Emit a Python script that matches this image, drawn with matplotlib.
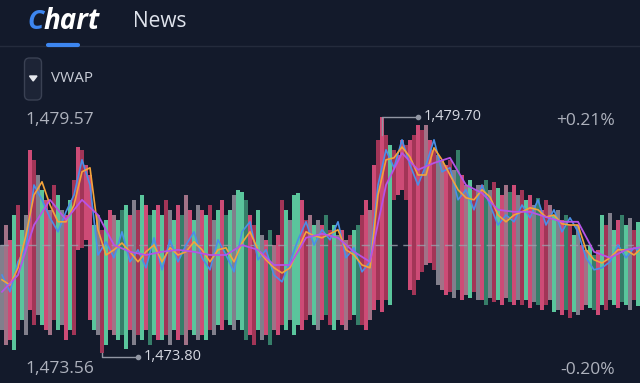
import numpy as np
import matplotlib
matplotlib.use("Agg")
import matplotlib.pyplot as plt
from matplotlib.patches import FancyBboxPatch, Polygon

plt.rcParams['font.family'] = ['Open Sans', 'DejaVu Sans']

# ---- data (prices) ----
prev_close = 1476.50
axis_top_label = "1,479.57"
axis_bottom_label = "1,473.56"
pct_top_label = "+0.21%"
pct_bottom_label = "-0.20%"

bar_top = [
    1476.50, 1477.00, 1476.63, 1477.25, 1477.50, 1476.88, 1477.25, 1478.88, 1478.63, 1478.25,
    1477.88, 1477.63, 1477.38, 1478.00, 1477.75, 1477.38, 1477.25, 1477.63, 1478.13, 1478.95,
    1478.88, 1478.50, 1478.25, 1477.00, 1477.25, 1476.88, 1477.13, 1477.38, 1477.25, 1477.13,
    1477.38, 1477.50, 1477.25, 1477.63, 1477.38, 1477.75, 1477.50, 1477.25, 1477.38, 1477.50,
    1477.25, 1477.63, 1477.38, 1477.13, 1477.50, 1477.25, 1477.75, 1477.38, 1477.13, 1477.50,
    1477.38, 1477.25, 1477.50, 1477.13, 1477.38, 1477.63, 1477.25, 1477.38, 1477.75, 1477.88,
    1477.83, 1477.63, 1477.25, 1477.00, 1477.38, 1476.75, 1476.63, 1476.88, 1476.50, 1476.75,
    1477.63, 1477.38, 1477.13, 1477.75, 1477.80, 1477.63, 1477.13, 1477.25, 1477.00, 1477.13,
    1477.00, 1477.25, 1476.88, 1477.00, 1476.75, 1476.88, 1476.63, 1476.75, 1476.88, 1477.00,
    1477.25, 1477.63, 1477.38, 1478.50, 1479.13, 1479.70, 1479.25, 1479.00, 1478.88, 1478.75,
    1479.13, 1479.00, 1479.13, 1479.25, 1479.50, 1479.38, 1479.50, 1479.13, 1478.88, 1478.75,
    1478.63, 1478.50, 1478.63, 1478.38, 1478.88, 1478.25, 1478.00, 1478.13, 1477.88, 1478.00,
    1478.00, 1478.13, 1477.88, 1478.08, 1477.93, 1477.75, 1478.00, 1477.83, 1478.00, 1477.75,
    1477.88, 1477.63, 1477.75, 1477.50, 1477.68, 1477.38, 1477.63, 1477.50, 1477.25, 1477.38,
    1477.13, 1477.25, 1477.00, 1476.75, 1477.00, 1476.50, 1476.38, 1476.50, 1476.25, 1476.38,
    1477.25, 1477.00, 1477.30, 1476.88, 1477.13, 1477.25, 1477.00, 1477.18, 1476.88, 1477.08,
]
bar_bottom = [
    1474.38, 1474.00, 1474.13, 1473.88, 1474.38, 1474.63, 1474.25, 1474.88, 1474.50, 1474.75,
    1474.50, 1474.38, 1474.25, 1474.63, 1474.38, 1474.50, 1474.13, 1474.38, 1474.25, 1476.38,
    1476.43, 1476.63, 1474.63, 1474.38, 1474.25, 1473.80, 1474.00, 1474.38, 1474.25, 1474.13,
    1474.25, 1473.90, 1474.38, 1474.00, 1474.25, 1474.13, 1474.38, 1474.00, 1474.25, 1474.13,
    1474.13, 1474.25, 1474.00, 1474.38, 1474.13, 1474.25, 1474.00, 1474.38, 1474.25, 1474.13,
    1474.25, 1474.13, 1474.38, 1474.25, 1474.50, 1474.38, 1474.63, 1474.50, 1474.38, 1474.63,
    1474.38, 1474.13, 1474.25, 1474.00, 1474.38, 1474.13, 1474.25, 1474.00, 1474.38, 1474.25,
    1474.50, 1474.38, 1474.63, 1474.25, 1474.50, 1474.38, 1474.63, 1474.75, 1474.50, 1474.38,
    1474.63, 1474.75, 1474.50, 1474.38, 1474.63, 1474.50, 1474.38, 1474.63, 1474.75, 1474.50,
    1474.50, 1474.38, 1474.63, 1474.88, 1475.13, 1474.83, 1475.13, 1475.00, 1477.63, 1477.75,
    1477.88, 1477.63, 1475.38, 1475.25, 1475.63, 1475.83, 1476.00, 1476.05, 1475.88, 1475.50,
    1475.38, 1475.25, 1475.33, 1475.18, 1475.38, 1475.13, 1475.25, 1475.18, 1475.33, 1475.13,
    1475.13, 1475.00, 1475.18, 1475.08, 1475.13, 1475.00, 1475.18, 1475.08, 1475.00, 1475.13,
    1475.00, 1475.13, 1474.93, 1475.08, 1475.00, 1474.88, 1475.00, 1475.13, 1474.83, 1474.88,
    1474.75, 1474.88, 1474.68, 1474.83, 1474.75, 1474.88, 1475.00, 1474.93, 1474.88, 1474.75,
    1475.00, 1474.88, 1475.13, 1475.00, 1474.93, 1475.08, 1475.00, 1474.88, 1475.13, 1474.98,
]
bar_kind = ("wprgRgwrRw" "grpRgwrgRr" "RrrgwRgrpg" "GgrwRgrGgr" "gRwgrGprgw"
            "rgRwgrGgwg" "gGrRgwrGpr" "RgwggrRpgw" "rGRgwrpRgG" "RrprRrRgRr"
            "rRrRrRprRw" "prRwGrpgRw" "rGwRgrpGrw" "RgrwGrRpgw" "rGRgwrpgGr"
            "gRwgrGgwRg")

# price line (every 2nd bar), fast average (every 2nd bar), slow average (every 4th bar)
price_line = [
    1475.75, 1475.33, 1476.08, 1476.43, 1478.00, 1477.63, 1477.18, 1476.83, 1477.33, 1477.75,
    1478.63, 1478.00, 1476.25, 1476.58, 1476.18, 1476.83, 1476.08, 1476.38, 1475.93, 1476.68,
    1475.88, 1476.63, 1476.08, 1476.50, 1476.83, 1476.18, 1475.88, 1476.63, 1476.25, 1475.83,
    1476.83, 1477.08, 1476.13, 1476.38, 1475.75, 1475.58, 1476.08, 1476.63, 1477.08, 1476.50,
    1476.88, 1476.63, 1477.08, 1476.18, 1476.43, 1475.83, 1476.08, 1478.00, 1478.88, 1478.43,
    1479.13, 1478.50, 1478.00, 1478.50, 1479.13, 1478.33, 1478.43, 1477.63, 1477.88, 1477.38,
    1478.00, 1477.50, 1477.00, 1477.25, 1477.08, 1477.50, 1477.18, 1477.63, 1477.00, 1477.38,
    1476.83, 1477.18, 1476.83, 1476.18, 1475.88, 1475.93, 1476.08, 1476.50, 1476.18, 1476.43,
    1476.33,
]
fast_avg = [
    1475.63, 1475.50, 1475.93, 1476.75, 1477.75, 1478.08, 1477.50, 1477.08, 1477.08, 1477.50,
    1478.33, 1478.43, 1476.88, 1476.25, 1476.38, 1476.55, 1476.33, 1476.08, 1476.33, 1476.50,
    1476.08, 1476.43, 1476.25, 1476.33, 1476.58, 1476.38, 1476.08, 1476.38, 1476.43, 1476.08,
    1476.55, 1476.83, 1476.38, 1476.13, 1475.93, 1475.80, 1475.93, 1476.38, 1476.83, 1476.73,
    1476.68, 1476.78, 1476.88, 1476.38, 1476.25, 1476.00, 1475.93, 1477.75, 1478.63, 1478.68,
    1478.95, 1478.70, 1478.25, 1478.25, 1478.93, 1478.63, 1478.25, 1477.88, 1477.68, 1477.63,
    1477.88, 1477.70, 1477.25, 1477.08, 1477.25, 1477.33, 1477.43, 1477.38, 1477.20, 1477.25,
    1477.03, 1477.00, 1477.00, 1476.38, 1476.13, 1476.05, 1476.18, 1476.38, 1476.38, 1476.25,
    1476.43,
]
slow_avg = [
    1475.33, 1475.75, 1477.00, 1477.63, 1477.13, 1477.63, 1477.25, 1476.50, 1476.33, 1476.25,
    1476.33, 1476.38, 1476.33, 1476.25, 1476.25, 1476.50, 1476.38, 1476.00, 1476.00, 1476.68,
    1476.78, 1476.68, 1476.33, 1476.08, 1478.00, 1478.80, 1478.38, 1478.55, 1478.68, 1478.00,
    1477.80, 1477.38, 1477.33, 1477.33, 1477.20, 1477.08, 1477.08, 1476.33, 1476.18, 1476.38,
    1476.45,
]

# ---- style ----
BG = '#131a2b'
kind_colors = {'r': '#e2517f', 'R': '#b3395d', 'g': '#63d9a9', 'G': '#3a8a70',
               'w': '#8e8b98', 'p': '#b27d92'}
W, H = 640, 383

fig = plt.figure(figsize=(W / 100, H / 100), dpi=100, facecolor=BG)
ax = fig.add_axes([0, 0, 1, 1])
ax.set_facecolor(BG)
ax.axis('off')

n = len(bar_top)
idx = np.arange(n)
top = np.array(bar_top)
bottom = np.array(bar_bottom)
colors = [kind_colors[k] for k in bar_kind]
ax.bar(idx, top - bottom, bottom=bottom, width=0.82, color=colors, alpha=0.9,
       linewidth=0, zorder=2)

ax.axhline(prev_close, color='#9aa0ad', lw=1.0, ls=(0, (6, 4)), alpha=0.8, zorder=3)

ax.plot(np.arange(len(price_line)) * 2, price_line, color='#4a8fe8', lw=1.2, zorder=4)
ax.plot(np.arange(len(fast_avg)) * 2, fast_avg, color='#f4a43a', lw=1.2, zorder=5)
ax.plot(np.arange(len(slow_avg)) * 4, slow_avg, color='#b653e6', lw=1.3, zorder=6)

ax.set_xlim(-0.5, n - 0.5)
ax.set_ylim(1473.05, 1482.625)

# high / low markers
hi = int(np.argmax(top))
lo = int(np.argmin(bottom))
ann = '#9196a3'
ax.plot([hi, hi, hi + 9], [top[hi] - 0.45, top[hi], top[hi]], color=ann, lw=1, zorder=7)
ax.plot(hi + 9, top[hi], 'o', color=ann, ms=3, zorder=7)
ax.text(hi + 10.5, top[hi], f"{top[hi]:,.2f}", color='#d6d9e2', fontsize=10.5,
        va='center', ha='left', zorder=8)
ax.plot([lo, lo, lo + 9], [bottom[lo], bottom[lo] - 0.1, bottom[lo] - 0.1], color=ann,
        lw=1, zorder=7)
ax.plot(lo + 9, bottom[lo] - 0.1, 'o', color=ann, ms=3, zorder=7)
ax.text(lo + 10.5, bottom[lo] - 0.1, f"{bottom[lo]:,.2f}", color='#d6d9e2',
        fontsize=10.5, va='center', ha='left', zorder=8)


def fx(x):
    return x / W


def fy(y):
    return 1 - y / H


# corner labels
fig.text(fx(25), fy(120), axis_top_label, color='#aeb2bd', fontsize=12.5, va='center')
fig.text(fx(25), fy(369), axis_bottom_label, color='#aeb2bd', fontsize=12.5, va='center')
fig.text(fx(615), fy(121), pct_top_label, color='#aeb2bd', fontsize=12.5, va='center',
         ha='right')
fig.text(fx(615), fy(370), pct_bottom_label, color='#aeb2bd', fontsize=12.5, va='center',
         ha='right')

# header
fig.text(fx(27), fy(29), "C", color='#3d86f0', fontsize=19, fontweight='bold',
         fontstyle='italic', va='baseline')
fig.text(fx(43.5), fy(29), "hart", color='#ffffff', fontsize=20, fontweight='bold',
         fontstyle='italic', va='baseline')
fig.text(fx(133), fy(27), "News", color='#dfe3ec', fontsize=15, va='baseline')

fig.add_artist(plt.Line2D([0, 1], [fy(46), fy(46)], color='#242b3c', lw=1,
                          transform=fig.transFigure))
fig.add_artist(plt.Line2D([fx(48), fx(78)], [fy(45), fy(45)], color='#3d86f0', lw=3,
                          solid_capstyle='round', transform=fig.transFigure))

# indicator selector
box = FancyBboxPatch((24.5 / 100, (H - 100) / 100), 17 / 100, 42 / 100,
                     boxstyle="round,pad=0,rounding_size=0.05",
                     facecolor='#1d2436', edgecolor='#3a4153', lw=1,
                     transform=fig.dpi_scale_trans)
fig.add_artist(box)
tri = Polygon([(29.5 / 100, (H - 76) / 100), (37 / 100, (H - 76) / 100),
               (33.2 / 100, (H - 81) / 100)], closed=True, color='#e6e8ee',
              transform=fig.dpi_scale_trans)
fig.add_artist(tri)
fig.text(fx(51), fy(79), "VWAP", color='#c9cdd7', fontsize=11, va='center')

fig.savefig('out.png', dpi=100, facecolor=BG)
